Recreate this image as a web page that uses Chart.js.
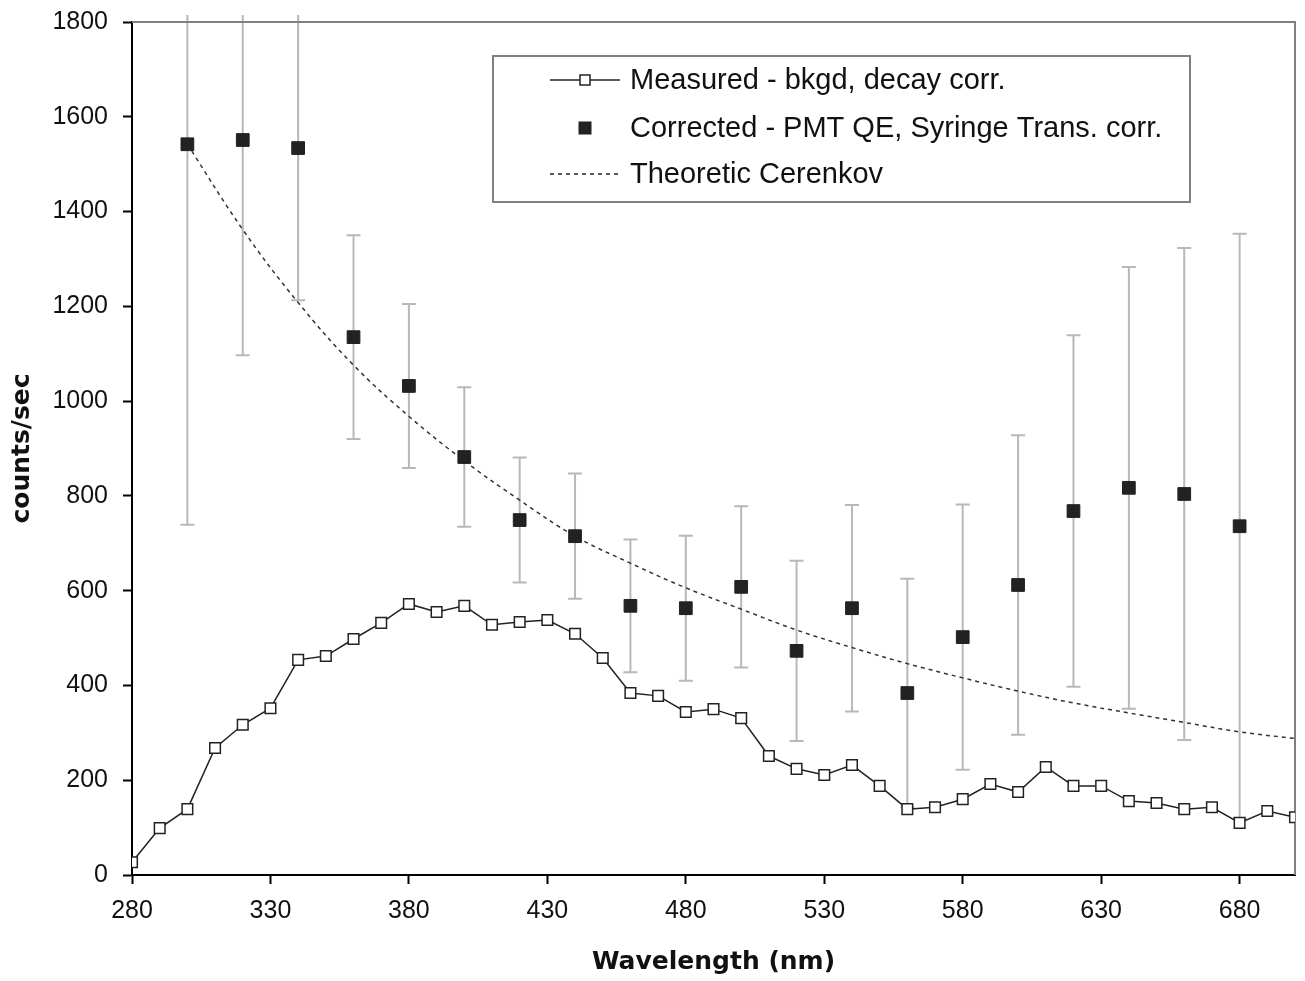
<!DOCTYPE html>
<html>
<head>
<meta charset="utf-8">
<script src="https://cdn.jsdelivr.net/npm/chart.js@4/dist/chart.umd.min.js"></script>
<style>
  html, body { margin: 0; padding: 0; background: #fff; }
  #wrap { width: 1305px; height: 981px; }
</style>
</head>
<body>
<div id="wrap"><canvas id="spectrumChart" width="1305" height="981"></canvas></div>
<script>
// Measured - bkgd, decay corr. (every 10 nm)
const measuredX = [280, 290, 300, 310, 320, 330, 340, 350, 360, 370, 380, 390, 400, 410, 420, 430, 440, 450, 460, 470, 480,
  490, 500, 510, 520, 530, 540, 550, 560, 570, 580, 590, 600, 610, 620, 630, 640, 650, 660, 670, 680, 690, 700];
const measuredY = [27, 99, 139, 268, 317, 352, 454, 462, 498, 532, 572, 555, 568, 528, 534, 538, 509, 458, 384, 378, 344,
  350, 331, 251, 224, 211, 232, 188, 139, 143, 160, 192, 175, 228, 188, 188, 156, 152, 139, 143, 110, 135, 122];

// Corrected - PMT QE, Syringe Trans. corr. (every 20 nm) with symmetric error
const correctedX = [300, 320, 340, 360, 380, 400, 420, 440, 460, 480, 500, 520, 540, 560, 580, 600, 620, 640, 660, 680];
const correctedY = [1542, 1551, 1534, 1135, 1032, 882, 749, 715, 568, 563, 608, 473, 563, 384, 502, 612, 768, 817, 804, 736];
const correctedErr = [803, 454, 321, 215, 173, 147, 132, 132, 140, 153, 170, 190, 218, 241, 280, 316, 371, 466, 519, 617];

// Theoretic Cerenkov
const theoryX = [300, 320, 340, 360, 380, 400, 420, 440, 460, 480, 500, 520, 540, 560, 580, 600, 620, 640, 660, 680, 700];
const theoryY = [1542, 1362, 1208, 1076, 968, 874, 791, 715, 658, 606, 561, 517, 480, 446, 416, 388, 363, 342, 322, 302, 288];

// Axis ticks
const xTicks = [280, 330, 380, 430, 480, 530, 580, 630, 680];
const yTicks = [0, 200, 400, 600, 800, 1000, 1200, 1400, 1600, 1800];

const labels = ['Measured - bkgd, decay corr.', 'Corrected - PMT QE, Syringe Trans. corr.', 'Theoretic Cerenkov'];

const pts = (xs, ys) => xs.map((x, i) => ({ x: x, y: ys[i] }));

const tickFont = { family: '"Liberation Sans", Arial, sans-serif', size: 25 };
const titleFont = { family: '"DejaVu Sans", Verdana, sans-serif', size: 25, weight: 'bold' };

// Error bars under the corrected points
const errorBars = {
  id: 'errorBars',
  beforeDatasetsDraw(chart) {
    const { ctx, chartArea, scales } = chart;
    ctx.save();
    ctx.beginPath();
    ctx.rect(chartArea.left, chartArea.top - 7, chartArea.right - chartArea.left, chartArea.bottom - chartArea.top + 7);
    ctx.clip();
    ctx.strokeStyle = '#b8b8b8';
    ctx.lineWidth = 2;
    correctedX.forEach((x, i) => {
      const px = scales.x.getPixelForValue(x);
      const top = scales.y.getPixelForValue(correctedY[i] + correctedErr[i]);
      const bot = scales.y.getPixelForValue(correctedY[i] - correctedErr[i]);
      ctx.beginPath();
      ctx.moveTo(px, top); ctx.lineTo(px, bot);
      ctx.moveTo(px - 7, top); ctx.lineTo(px + 7, top);
      ctx.moveTo(px - 7, bot); ctx.lineTo(px + 7, bot);
      ctx.stroke();
    });
    ctx.restore();
  }
};

// Gray top and right frame
const frame = {
  id: 'frame',
  beforeDatasetsDraw(chart) {
    const { ctx, chartArea: a } = chart;
    ctx.save();
    ctx.strokeStyle = '#808080';
    ctx.lineWidth = 2;
    ctx.beginPath();
    ctx.moveTo(a.left, a.top);
    ctx.lineTo(a.right, a.top);
    ctx.lineTo(a.right, a.bottom);
    ctx.stroke();
    ctx.restore();
  }
};

// Boxed legend inside the plot
const boxLegend = {
  id: 'boxLegend',
  afterDatasetsDraw(chart) {
    const { ctx, chartArea: a } = chart;
    const left = a.left + 361, top = a.top + 34, w = 697, h = 146;
    ctx.save();
    ctx.fillStyle = '#fff';
    ctx.fillRect(left, top, w, h);
    ctx.strokeStyle = '#808080';
    ctx.lineWidth = 2;
    ctx.strokeRect(left, top, w, h);

    const sx0 = left + 57, sx1 = left + 127, sxm = (sx0 + sx1) / 2;
    const rows = [top + 24, top + 72, top + 118];

    // measured sample
    ctx.strokeStyle = '#222';
    ctx.lineWidth = 1.5;
    ctx.beginPath(); ctx.moveTo(sx0, rows[0]); ctx.lineTo(sx1, rows[0]); ctx.stroke();
    ctx.fillStyle = '#fff';
    ctx.fillRect(sxm - 5, rows[0] - 5, 10, 10);
    ctx.strokeRect(sxm - 5, rows[0] - 5, 10, 10);
    // corrected sample
    ctx.fillStyle = '#222';
    ctx.fillRect(sxm - 6.5, rows[1] - 6.5, 13, 13);
    // theory sample
    ctx.setLineDash([4, 4]);
    ctx.beginPath(); ctx.moveTo(sx0, rows[2]); ctx.lineTo(sx1, rows[2]); ctx.stroke();
    ctx.setLineDash([]);

    ctx.fillStyle = '#111';
    ctx.font = '29px "Liberation Sans", Arial, sans-serif';
    ctx.textBaseline = 'middle';
    ctx.textAlign = 'left';
    labels.forEach((t, i) => ctx.fillText(t, left + 137, rows[i] + 1));
    ctx.restore();
  }
};

const ctx = document.getElementById('spectrumChart').getContext('2d');
const chart = new Chart(ctx, {
  type: 'scatter',
  data: {
    datasets: [
      {
        label: labels[1],
        data: pts(correctedX, correctedY),
        showLine: false,
        pointStyle: 'rect',
        pointRadius: 9,
        pointBackgroundColor: '#222',
        pointBorderColor: '#222',
        pointBorderWidth: 1
      },
      {
        label: labels[0],
        data: pts(measuredX, measuredY),
        showLine: true,
        borderColor: '#222',
        borderWidth: 1.5,
        pointStyle: 'rect',
        pointRadius: 7.5,
        pointBackgroundColor: '#fff',
        pointBorderColor: '#222',
        pointBorderWidth: 1.5
      },
      {
        label: labels[2],
        data: pts(theoryX, theoryY),
        showLine: true,
        borderColor: '#333',
        borderWidth: 1.5,
        borderDash: [4, 4],
        tension: 0.4,
        pointRadius: 0
      }
    ]
  },
  options: {
    responsive: false,
    animation: false,
    layout: { padding: { top: 22, right: 4, left: 0, bottom: 0 } },
    plugins: {
      legend: { display: false },
      tooltip: { enabled: false }
    },
    scales: {
      x: {
        type: 'linear',
        min: 280,
        max: 700,
        afterBuildTicks: s => { s.ticks = xTicks.map(v => ({ value: v })); },
        afterFit: s => { s.height = 106; s.paddingLeft = 0; s.paddingRight = 0; },
        grid: { drawOnChartArea: false, drawTicks: true, tickLength: 9, color: '#000', tickWidth: 2 },
        border: { color: '#000', width: 2 },
        ticks: { color: '#111', font: tickFont, padding: 12, maxRotation: 0, autoSkip: false, callback: v => String(v) },
        title: { display: true, text: 'Wavelength (nm)', color: '#111', font: titleFont, padding: { top: 4, bottom: 4 } }
      },
      y: {
        min: 0,
        max: 1800,
        afterBuildTicks: s => { s.ticks = yTicks.map(v => ({ value: v })); },
        afterFit: s => { s.width = 132; s.paddingTop = 0; s.paddingBottom = 0; },
        grid: { drawOnChartArea: false, drawTicks: true, tickLength: 9, color: '#000', tickWidth: 2 },
        border: { color: '#000', width: 2 },
        ticks: { color: '#111', font: tickFont, padding: 15, callback: v => String(v) },
        title: { display: true, text: 'counts/sec', color: '#111', font: titleFont, padding: { top: 7, bottom: 4 } }
      }
    }
  },
  plugins: [errorBars, frame, boxLegend]
});
</script>
</body>
</html>
